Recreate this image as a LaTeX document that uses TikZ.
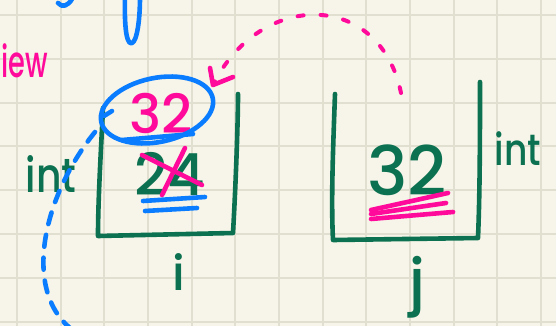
\documentclass[tikz,border=0pt]{standalone}
\usepackage{fontspec}
\newfontfamily\hand{Poppins}[UprightFont=* Medium, BoldFont=* SemiBold]
\usetikzlibrary{calc}
\definecolor{paper}{HTML}{F7F5E9}
\definecolor{gridc}{HTML}{E1DFD0}
\definecolor{inkg}{HTML}{0B7150}
\definecolor{inkp}{HTML}{FF0A9B}
\definecolor{inkb}{HTML}{0A7CFF}
\tikzset{
  pen/.style={line width=4.6pt, line cap=round, line join=round},
  gpen/.style={pen, draw=inkg},
  ppen/.style={pen, draw=inkp},
  bpen/.style={pen, draw=inkb},
  gtext/.style={text=inkg, inner sep=0pt, anchor=base},
  ptext/.style={text=inkp, inner sep=0pt, anchor=base},
}
\newcommand{\handsize}[1]{\hand\fontsize{#1}{#1}\selectfont}
\begin{document}
\begin{tikzpicture}[x=1pt,y=-1pt]
\useasboundingbox (0,0) rectangle (556,326);
\fill[paper] (0,0) rectangle (556,326);
\clip (0,0) rectangle (556,326);
% grid
\foreach \k in {0,...,12} {\draw[gridc, line width=2pt] ({17+43.65*\k},0) -- ({17+43.65*\k},326);}
\foreach \k in {0,...,7} {\draw[gridc, line width=2pt] (0,{15+43.8*\k}) -- (556,{15+43.8*\k});}

% top blue strokes
\draw[bpen] (125,-3) .. controls (124,35) and (128,45) .. (132,43) .. controls (137,41) and (140,20) .. (140,-3);
\draw[bpen] (58,3) .. controls (62,8) and (68,6) .. (72,-1);

% partial pink word at left
\node[ptext, anchor=base west, xscale=0.62, font=\handsize{44}] (word) at (1,78) {iew};

% left box
\draw[gpen] (103,108) .. controls (101,150) and (98,200) .. (98,236) -- (233,233) .. controls (236,180) and (238,120) .. (238,94);
% right box
\draw[gpen] (335,94) .. controls (333,150) and (331,200) .. (333,240) -- (478,238) .. controls (480,190) and (480,130) .. (480,82);

% labels int
\node[gtext, xscale=0.82, font=\handsize{48}] (intl) at (51,192) {int};
\node[gtext, xscale=0.82, font=\handsize{44}] (intr) at (518,165) {int};
% i and j
\node[gtext, font=\handsize{48}] (ilab) at (179,290) {i};
\node[gtext, font=\handsize{60}] (jlab) at (417,302) {j};

% left box content
\node[gtext, font=\handsize{58}] (old) at (170,195) {24};
\draw[ppen] (142,155) -- (202,185);
\draw[ppen] (185,148) -- (162,195);
\draw[bpen] (143,201) -- (205,197);
\draw[bpen] (145,211) -- (197,208);

\node[ptext, font=\handsize{54}] (new) at (161,133) {32};
\draw[bpen, rotate around={12:(157,110)}] (157,110) ellipse [x radius=57, y radius=32];
\draw[bpen] (112,111) -- (104,116);
\draw[bpen] (122,140) -- (193,134);

% right box content
\node[gtext, font=\handsize{68}] (val) at (407,195) {32};
\draw[ppen] (371,210) -- (448,193);
\draw[ppen] (371,214) -- (446,203);
\draw[ppen] (371,219) -- (453,212);

% pink dashed arrow from j box to the circled value
\coordinate (arcstart) at (401,93);
\coordinate (arctip) at (213,85);
\draw[ppen, line width=4pt, dash pattern=on 6pt off 17pt] (arcstart) .. controls (380,-10) and (260,-10) .. (arctip);
\draw[ppen] ($(arctip)+(-3,-17)$) -- (arctip) -- ($(arctip)+(20,-8)$);

% blue dashed curve
\coordinate (bstart) at (95,132);
\coordinate (bend) at (80,335);
\draw[bpen, dash pattern=on 12pt off 11pt] (bstart) .. controls (40,200) and (20,300) .. (bend);
\end{tikzpicture}
\end{document}
